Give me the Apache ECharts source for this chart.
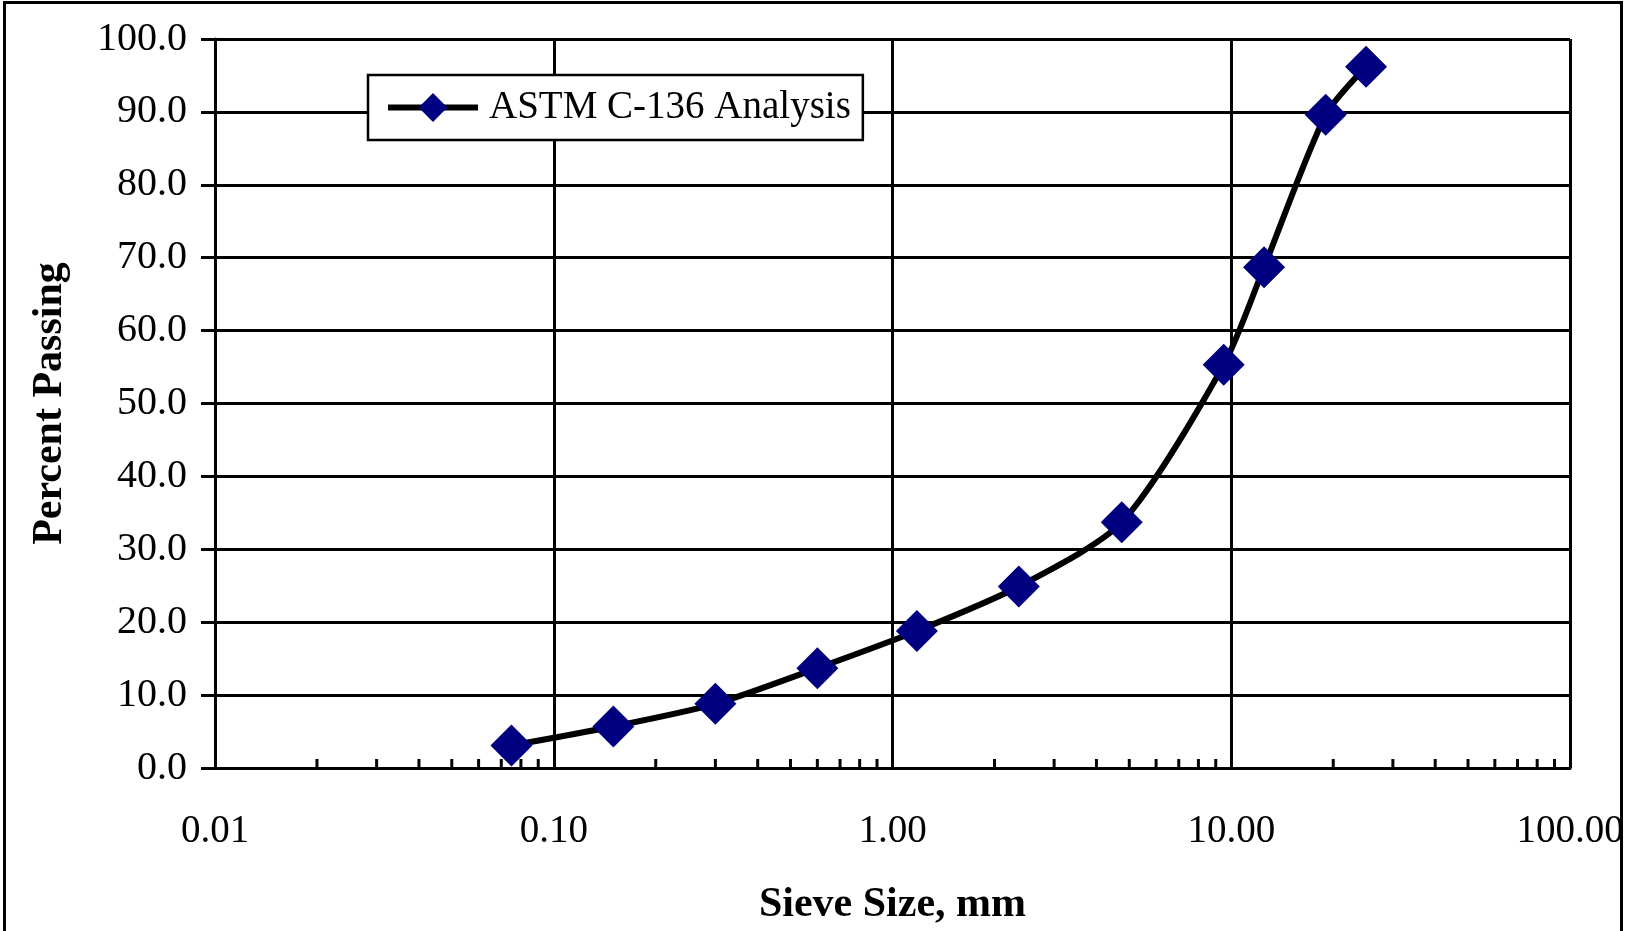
<!DOCTYPE html>
<html>
<head>
<meta charset="utf-8">
<script src="https://cdn.jsdelivr.net/npm/echarts@6/dist/echarts.min.js"></script>
<style>
  html, body { margin: 0; padding: 0; background: #fff; }
  #chart { width: 1627px; height: 931px; }
</style>
</head>
<body>
<div id="chart"></div>
<script>
// ---- data ----
const seriesName = 'ASTM C-136 Analysis';
const sieveSizes = [0.075, 0.15, 0.3, 0.6, 1.18, 2.36, 4.75, 9.5, 12.5, 19, 25];
const percentPassing = [3.1, 5.7, 8.8, 13.7, 18.8, 24.9, 33.7, 55.3, 68.7, 89.6, 96.2];
const minorTickPositions = [
  0.02, 0.03, 0.04, 0.05, 0.06, 0.07, 0.08, 0.09,
  0.2, 0.3, 0.4, 0.5, 0.6, 0.7, 0.8, 0.9,
  2, 3, 4, 5, 6, 7, 8, 9,
  20, 30, 40, 50, 60, 70, 80, 90
];
const xTitle = 'Sieve Size, mm';
const yTitle = 'Percent Passing';

const FONT = '"Liberation Serif", "Times New Roman", serif';

const chart = echarts.init(document.getElementById('chart'));
chart.setOption({
  animation: false,
  backgroundColor: '#fff',
  graphic: [{
    type: 'rect',
    shape: { x: 4.5, y: 2.5, width: 1617, height: 1000 },
    style: { fill: 'none', stroke: '#000', lineWidth: 3 },
    silent: true, z: 100
  }],
  grid: { left: 215, right: 57, top: 39, bottom: 162 },
  legend: {
    data: [seriesName],
    left: 368, top: 75,
    orient: 'horizontal',
    backgroundColor: '#fff',
    borderColor: '#000',
    borderWidth: 2.5,
    borderRadius: 0,
    padding: [13, 12, 13, 17],
    itemWidth: 90,
    itemHeight: 36,
    lineStyle: { color: '#000', width: 6 },
    textStyle: { fontFamily: FONT, fontSize: 39, color: '#000', padding: [0, 0, 0, 6] },
    selectedMode: false
  },
  xAxis: {
    type: 'log', logBase: 10, min: 0.01, max: 100,
    name: xTitle, nameLocation: 'middle', nameGap: 116,
    nameTextStyle: { fontFamily: FONT, fontSize: 42, fontWeight: 'bold', color: '#000' },
    axisLine: { show: true, lineStyle: { color: '#000', width: 3 } },
    axisTick: { show: false },
    axisLabel: {
      fontFamily: FONT, fontSize: 39, color: '#000', margin: 44,
      formatter: v => Number(v).toFixed(2)
    },
    splitLine: { show: true, lineStyle: { color: '#000', width: 3 } }
  },
  yAxis: {
    type: 'value', min: 0, max: 100, interval: 10,
    name: yTitle, nameLocation: 'middle', nameGap: 144, nameRotate: 90,
    nameTextStyle: { fontFamily: FONT, fontSize: 42, fontWeight: 'bold', color: '#000' },
    axisLine: { show: true, lineStyle: { color: '#000', width: 3 } },
    axisTick: { show: true, inside: false, length: 14, lineStyle: { color: '#000', width: 3 } },
    axisLabel: {
      fontFamily: FONT, fontSize: 40, color: '#000', margin: 28,
      formatter: v => Number(v).toFixed(1)
    },
    splitLine: { show: true, lineStyle: { color: '#000', width: 3 } }
  },
  series: [
    {
      name: 'minorTicks',
      type: 'custom',
      silent: true,
      z: 3,
      data: minorTickPositions.map(v => [v, 0]),
      renderItem: function (params, api) {
        const p = api.coord([api.value(0), api.value(1)]);
        return {
          type: 'line',
          shape: { x1: p[0], y1: p[1], x2: p[0], y2: p[1] - 9 },
          style: { stroke: '#000', lineWidth: 3 }
        };
      }
    },
    {
      name: seriesName,
      type: 'line',
      data: sieveSizes.map((s, i) => [s, percentPassing[i]]),
      smooth: 0.25,
      symbol: 'diamond',
      symbolSize: 42,
      showAllSymbol: true,
      lineStyle: { color: '#000', width: 6 },
      itemStyle: { color: '#000080' },
      z: 5
    }
  ]
});
</script>
</body>
</html>
